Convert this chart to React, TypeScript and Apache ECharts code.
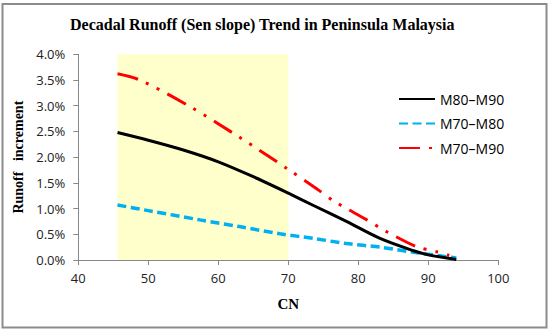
import React, { useEffect, useRef } from "react";
import * as echarts from "echarts";

const titleText = "Decadal Runoff (Sen slope) Trend in Peninsula Malaysia";
const xName = "CN";
const yName = "Runoff   increment";
const seriesNames = ["M80–M90", "M70–M80", "M70–M90"];

// [CN, runoff increment %]
const m80m90: [number, number][] = [
  [45.6, 2.48], [50, 2.33], [55, 2.14], [60, 1.91], [65, 1.62], [70, 1.3],
  [73.6, 1.06], [78.3, 0.75], [83.1, 0.42], [87.9, 0.18], [90, 0.1], [94, 0.01],
];
const m70m80: [number, number][] = [
  [45.6, 1.07], [50, 0.96], [57.4, 0.78], [63, 0.65], [68.8, 0.51], [73.6, 0.42],
  [78.3, 0.32], [83.1, 0.25], [87.9, 0.15], [94, 0.04],
];
const m70m90: [number, number][] = [
  [45.6, 3.62], [48.8, 3.5], [56, 2.98], [63, 2.39], [69.8, 1.78], [74.1, 1.38],
  [76.7, 1.13], [81.1, 0.79], [83.8, 0.57], [88.3, 0.26], [91.2, 0.16], [93, 0.09],
];
const shadeRange = [45.6, 70];

export default function App() {
  const ref = useRef<HTMLDivElement>(null);
  useEffect(() => {
    if (!ref.current) return;
    const chart = echarts.init(ref.current, null, { renderer: "svg" });
    const labelFont = { fontFamily: "Open Sans", fontSize: 13, color: "#222" };
    chart.setOption({
      animation: false,
      backgroundColor: "#fff",
      title: {
        text: titleText,
        left: 70,
        top: 16,
        padding: 0,
        textStyle: { fontFamily: "Liberation Serif", fontWeight: "bold", fontSize: 16, color: "#000" },
      },
      legend: {
        data: seriesNames,
        orient: "vertical",
        left: 398,
        top: 92,
        padding: 0,
        itemWidth: 36,
        itemHeight: 14,
        itemGap: 10.5,
        itemStyle: { opacity: 0 },
        textStyle: { fontFamily: "Open Sans", fontSize: 14, color: "#000" },
      },
      grid: { left: 78.3, right: 51.7, top: 54.3, bottom: 72, containLabel: false },
      xAxis: {
        type: "value",
        min: 40,
        max: 100,
        interval: 10,
        name: xName,
        nameLocation: "middle",
        nameGap: 36,
        nameTextStyle: { fontFamily: "Liberation Serif", fontWeight: "bold", fontSize: 15, color: "#000" },
        axisLine: { lineStyle: { color: "#888", width: 1 } },
        axisTick: { show: true, inside: false, length: 5, lineStyle: { color: "#888" } },
        axisLabel: { ...labelFont, margin: 11 },
        splitLine: { show: false },
      },
      yAxis: {
        type: "value",
        min: 0,
        max: 4,
        interval: 0.5,
        name: yName,
        nameLocation: "middle",
        nameGap: 47,
        nameRotate: 90,
        nameTextStyle: { fontFamily: "Liberation Serif", fontWeight: "bold", fontSize: 14, color: "#000" },
        axisLine: { show: true, lineStyle: { color: "#888", width: 1 } },
        axisTick: { show: true, inside: false, length: 5, lineStyle: { color: "#888" } },
        axisLabel: { ...labelFont, margin: 13, formatter: (v: number) => v.toFixed(1) + "%" },
        splitLine: { show: false },
      },
      graphic: [
        {
          type: "rect",
          shape: { x: 2.5, y: 4, width: 544, height: 323.5 },
          style: { fill: "none", stroke: "#8c8c8c", lineWidth: 2 },
          silent: true,
        },
      ],
      series: [
        {
          name: seriesNames[0],
          type: "line",
          data: m80m90,
          smooth: 0.3,
          symbol: "none",
          z: 3,
          lineStyle: { color: "#000", width: 3 },
          itemStyle: { color: "#000" },
        },
        {
          name: seriesNames[1],
          type: "line",
          data: m70m80,
          smooth: 0.3,
          symbol: "none",
          z: 2,
          lineStyle: { color: "#00B0F0", width: 3.5, type: [9, 4.5] },
          itemStyle: { color: "#00B0F0" },
        },
        {
          name: seriesNames[2],
          type: "line",
          data: m70m90,
          smooth: 0.3,
          symbol: "none",
          z: 2,
          lineStyle: { color: "#FF0000", width: 3, type: [21, 9, 3, 9, 3, 9] },
          itemStyle: { color: "#FF0000" },
        },
        {
          name: "shade",
          type: "line",
          data: [],
          z: 10,
          silent: true,
          markArea: {
            silent: true,
            itemStyle: { color: "rgba(255,255,0,0.2)" },
            data: [[{ xAxis: shadeRange[0], yAxis: 0 }, { xAxis: shadeRange[1], yAxis: 4 }]],
          },
        },
      ],
    });
    return () => chart.dispose();
  }, []);
  return (
    <div
      ref={ref}
      style={{ position: "fixed", left: 0, top: 0, width: 550, height: 332 }}
    />
  );
}
